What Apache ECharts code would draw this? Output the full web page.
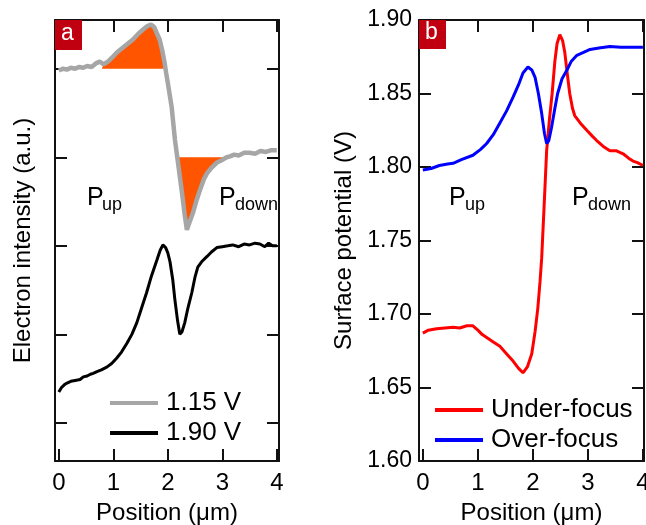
<!DOCTYPE html>
<html>
<head>
<meta charset="utf-8">
<script src="https://cdn.jsdelivr.net/npm/echarts@6/dist/echarts.min.js"></script>
<style>html,body{margin:0;padding:0;background:#fff}#c{width:646px;height:525px}</style>
</head>
<body>
<div id="c"></div>
<script>
// ---------- DATA ----------
const xTicks = [0, 1, 2, 3, 4];
const yTicksA = [0, 1, 2, 3, 4];
const seriesNamesA = ['1.15 V', '1.90 V'];
const seriesNamesB = ['Under-focus', 'Over-focus'];

// Panel a: electron intensity (arbitrary units, offset traces)
const gray115 = [[0,3.98],[0.08,4.0],[0.15,3.99],[0.22,4.01],[0.3,4.0],[0.38,4.02],[0.45,4.01],[0.52,4.03],[0.6,4.02],[0.68,4.06],[0.75,4.08],[0.82,4.05],[0.9,4.08],[1.0,4.14],[1.06,4.18],[1.12,4.21],[1.2,4.25],[1.28,4.29],[1.36,4.33],[1.45,4.39],[1.54,4.44],[1.62,4.48],[1.69,4.50],[1.75,4.47],[1.8,4.4],[1.85,4.33],[1.9,4.2],[1.94,4.07],[1.97,3.95],[2.0,3.84],[2.07,3.57],[2.13,3.2],[2.18,2.97],[2.26,2.6],[2.31,2.35],[2.35,2.18],[2.4,2.27],[2.46,2.37],[2.52,2.5],[2.59,2.63],[2.66,2.75],[2.72,2.82],[2.8,2.88],[2.9,2.94],[3.0,2.97],[3.08,3.0],[3.14,3.01],[3.22,3.03],[3.3,3.02],[3.4,3.05],[3.5,3.05],[3.6,3.04],[3.7,3.07],[3.8,3.06],[3.9,3.08],[4.0,3.08]];
const black190 = [[0,0.35],[0.05,0.4],[0.1,0.43],[0.15,0.45],[0.22,0.47],[0.3,0.48],[0.39,0.49],[0.45,0.52],[0.52,0.53],[0.58,0.55],[0.63,0.56],[0.7,0.58],[0.78,0.6],[0.88,0.63],[0.97,0.67],[1.06,0.73],[1.15,0.8],[1.25,0.9],[1.34,1.0],[1.43,1.13],[1.52,1.3],[1.61,1.47],[1.7,1.66],[1.8,1.84],[1.86,1.95],[1.91,2.01],[1.96,1.98],[2.0,1.92],[2.04,1.82],[2.09,1.62],[2.13,1.39],[2.18,1.15],[2.22,1.0],[2.26,1.03],[2.31,1.13],[2.37,1.3],[2.44,1.47],[2.5,1.65],[2.55,1.76],[2.62,1.82],[2.72,1.88],[2.8,1.93],[2.9,1.98],[3.0,1.99],[3.1,2.0],[3.19,2.01],[3.3,1.99],[3.4,2.02],[3.5,2.01],[3.6,2.03],[3.69,2.02],[3.78,1.99],[3.85,2.03],[3.92,2.0],[4.0,2.0]];
// shaded regions: [xStart, xEnd, baseline]
const fillUpper = [0.79, 1.955, 4.0];
const fillLower = [2.17, 3.08, 3.0];

// Panel b: surface potential (V)
const underFocus = [[0,1.687],[0.1,1.689],[0.25,1.690],[0.4,1.6905],[0.55,1.691],[0.67,1.6905],[0.8,1.692],[0.91,1.692],[1.0,1.689],[1.08,1.686],[1.16,1.684],[1.28,1.681],[1.4,1.678],[1.52,1.673],[1.64,1.668],[1.74,1.663],[1.82,1.66],[1.9,1.664],[1.98,1.673],[2.04,1.688],[2.09,1.704],[2.13,1.722],[2.16,1.738],[2.2,1.77],[2.25,1.811],[2.3,1.832],[2.35,1.85],[2.4,1.872],[2.44,1.884],[2.49,1.89],[2.54,1.886],[2.58,1.878],[2.63,1.862],[2.67,1.85],[2.72,1.84],[2.76,1.835],[2.86,1.83],[2.98,1.825],[3.08,1.821],[3.16,1.818],[3.28,1.814],[3.4,1.811],[3.52,1.811],[3.64,1.809],[3.74,1.806],[3.82,1.804],[3.9,1.803],[4.0,1.801]];
const overFocus = [[0,1.798],[0.15,1.799],[0.3,1.801],[0.45,1.802],[0.55,1.8025],[0.7,1.805],[0.91,1.808],[1.05,1.812],[1.16,1.816],[1.28,1.822],[1.4,1.83],[1.52,1.838],[1.64,1.8475],[1.74,1.856],[1.82,1.864],[1.91,1.868],[1.98,1.866],[2.04,1.861],[2.1,1.85],[2.16,1.8365],[2.21,1.823],[2.25,1.816],[2.29,1.818],[2.34,1.827],[2.4,1.84],[2.45,1.85],[2.53,1.86],[2.62,1.866],[2.7,1.872],[2.8,1.876],[2.92,1.878],[3.04,1.88],[3.2,1.881],[3.4,1.882],[3.6,1.8815],[3.8,1.8815],[4.0,1.8815]];

// ---------- CHART ----------
const FF = '"Liberation Sans", Arial, sans-serif';
function fillData(curve, r) {
  const pts = [[r[0], r[2]]];
  curve.forEach(p => { if (p[0] > r[0] && p[0] < r[1]) pts.push(p); });
  pts.push([r[1], r[2]]);
  return pts;
}
const axLine = {onZero: false, lineStyle: {color: '#111', width: 2}};
const tickStyle = {color: '#111', width: 2};
function xAx(gi, pos, showLabel, max) {
  return {
    type: 'value', gridIndex: gi, position: pos, min: -0.07, max: max,
    axisLine: axLine,
    axisTick: {inside: true, length: 12, customValues: xTicks, lineStyle: tickStyle},
    axisLabel: {show: showLabel, customValues: xTicks, fontSize: 24, color: '#000', margin: 10, fontFamily: FF},
    splitLine: {show: false},
    name: showLabel ? 'Position (\u03bcm)' : '', nameLocation: 'middle', nameGap: 40,
    nameTextStyle: {fontSize: 24, color: '#000', fontFamily: FF}
  };
}
const legendText = {fontSize: 26, color: '#000', fontFamily: FF, padding: [0, 0, 0, 3], lineHeight: 26};
const chart = echarts.init(document.getElementById('c'), null, {renderer: 'canvas'});
chart.setOption({
  animation: false,
  backgroundColor: '#fff',
  grid: [
    {left: 55, top: 20, width: 224, height: 441, outerBoundsMode: 'none', containLabel: false},
    {left: 419, top: 20, width: 225, height: 441, outerBoundsMode: 'none', containLabel: false}
  ],
  xAxis: [xAx(0, 'bottom', true, 4.04), xAx(0, 'top', false, 4.04), xAx(1, 'bottom', true, 4.02), xAx(1, 'top', false, 4.02)],
  yAxis: [
    {type: 'value', gridIndex: 0, position: 'left', min: -0.43, max: 4.55, axisLine: axLine,
     axisTick: {inside: true, length: 12, customValues: yTicksA, lineStyle: tickStyle},
     axisLabel: {show: false}, splitLine: {show: false},
     name: 'Electron intensity (a.u.)', nameLocation: 'middle', nameGap: 20,
     nameTextStyle: {fontSize: 24, color: '#000', fontFamily: FF}},
    {type: 'value', gridIndex: 0, position: 'right', min: -0.43, max: 4.55, axisLine: axLine,
     axisTick: {inside: true, length: 12, customValues: yTicksA, lineStyle: tickStyle},
     axisLabel: {show: false}, splitLine: {show: false}},
    {type: 'value', gridIndex: 1, position: 'left', min: 1.60, max: 1.90, interval: 0.05, axisLine: axLine,
     axisTick: {inside: true, length: 12, lineStyle: tickStyle},
     axisLabel: {fontSize: 23, color: '#000', margin: 7, fontFamily: FF, formatter: v => v.toFixed(2)},
     splitLine: {show: false},
     name: 'Surface potential (V)', nameLocation: 'middle', nameGap: 63,
     nameTextStyle: {fontSize: 24, color: '#000', fontFamily: FF}},
    {type: 'value', gridIndex: 1, position: 'right', min: 1.60, max: 1.90, interval: 0.05, axisLine: axLine,
     axisTick: {inside: true, length: 12, lineStyle: tickStyle},
     axisLabel: {show: false}, splitLine: {show: false}}
  ],
  legend: [
    {data: seriesNamesA, orient: 'vertical', left: 105, top: 385, itemWidth: 48, itemHeight: 4, itemGap: 4,
     icon: 'rect', textStyle: legendText},
    {data: seriesNamesB, orient: 'vertical', left: 430, top: 392, itemWidth: 48, itemHeight: 4, itemGap: 4,
     icon: 'rect', textStyle: legendText}
  ],
  series: [
    {type: 'line', name: 'fillU', xAxisIndex: 0, yAxisIndex: 0, data: fillData(gray115, fillUpper), showSymbol: false,
     lineStyle: {width: 0}, areaStyle: {color: '#ff5500', opacity: 1, origin: fillUpper[2]}, z: 2},
    {type: 'line', name: 'fillL', xAxisIndex: 0, yAxisIndex: 0, data: fillData(gray115, fillLower), showSymbol: false,
     lineStyle: {width: 0}, areaStyle: {color: '#ff5500', opacity: 1, origin: fillLower[2]}, z: 2},
    {type: 'line', name: seriesNamesA[0], xAxisIndex: 0, yAxisIndex: 0, data: gray115, showSymbol: false,
     color: '#a6a6a6', lineStyle: {width: 4.5, color: '#a6a6a6'}, z: 3},
    {type: 'line', name: seriesNamesA[1], xAxisIndex: 0, yAxisIndex: 0, data: black190, showSymbol: false,
     color: '#000', lineStyle: {width: 3, color: '#000'}, z: 3},
    {type: 'line', name: seriesNamesB[0], xAxisIndex: 2, yAxisIndex: 2, data: underFocus, showSymbol: false,
     color: '#ff0000', lineStyle: {width: 3, color: '#ff0000'}, z: 3},
    {type: 'line', name: seriesNamesB[1], xAxisIndex: 2, yAxisIndex: 2, data: overFocus, showSymbol: false,
     color: '#0000ff', lineStyle: {width: 3, color: '#0000ff'}, z: 3}
  ],
  graphic: [
    {type: 'rect', left: 55, top: 20, shape: {width: 27, height: 30}, style: {fill: '#c00010'}, z: 10},
    {type: 'text', left: 61, top: 22, style: {text: 'a', fontSize: 23, fill: '#fff', fontFamily: FF}, z: 11},
    {type: 'rect', left: 419, top: 20, shape: {width: 27, height: 29}, style: {fill: '#c00010'}, z: 10},
    {type: 'text', left: 425, top: 21, style: {text: 'b', fontSize: 23, fill: '#fff', fontFamily: FF}, z: 11},
    {type: 'text', left: 87, top: 186, style: {text: 'P', fontSize: 25, fill: '#000', fontFamily: FF}},
    {type: 'text', left: 102, top: 196, style: {text: 'up', fontSize: 18, fill: '#000', fontFamily: FF}},
    {type: 'text', left: 219, top: 186, style: {text: 'P', fontSize: 25, fill: '#000', fontFamily: FF}},
    {type: 'text', left: 235, top: 196, style: {text: 'down', fontSize: 18, fill: '#000', fontFamily: FF}},
    {type: 'text', left: 449, top: 186, style: {text: 'P', fontSize: 25, fill: '#000', fontFamily: FF}},
    {type: 'text', left: 465, top: 196, style: {text: 'up', fontSize: 18, fill: '#000', fontFamily: FF}},
    {type: 'text', left: 572, top: 186, style: {text: 'P', fontSize: 25, fill: '#000', fontFamily: FF}},
    {type: 'text', left: 588, top: 196, style: {text: 'down', fontSize: 18, fill: '#000', fontFamily: FF}}
  ]
});
</script>
</body>
</html>
